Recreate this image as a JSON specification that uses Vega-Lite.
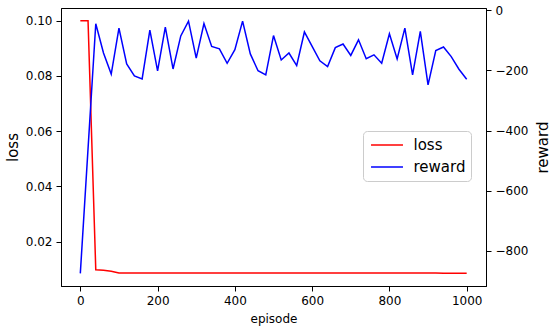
{
  "$schema": "https://vega.github.io/schema/vega-lite/v6.json",
  "width": 425,
  "height": 278,
  "autosize": {"type": "none"},
  "padding": {"left": 61, "top": 8, "right": 64, "bottom": 42},
  "background": "white",
  "config": {
    "font": "DejaVu Sans",
    "view": {"stroke": "#000000", "strokeWidth": 1},
    "axis": {
      "grid": false,
      "domainColor": "#000000",
      "domainWidth": 1,
      "tickColor": "#000000",
      "tickWidth": 1,
      "tickSize": 5,
      "labelPadding": 4,
      "labelFont": "DejaVu Sans",
      "labelFontSize": 12,
      "labelColor": "#000000",
      "titleFont": "DejaVu Sans",
      "titleFontWeight": "normal",
      "titleColor": "#000000"
    }
  },
  "datasets": {
    "lossData": [
      {"episode": 0, "loss": 0.1},
      {"episode": 20, "loss": 0.1},
      {"episode": 40, "loss": 0.0098},
      {"episode": 60, "loss": 0.0096},
      {"episode": 80, "loss": 0.0093},
      {"episode": 100, "loss": 0.0086},
      {"episode": 120, "loss": 0.0086},
      {"episode": 140, "loss": 0.0086},
      {"episode": 160, "loss": 0.0086},
      {"episode": 180, "loss": 0.0086},
      {"episode": 200, "loss": 0.0086},
      {"episode": 220, "loss": 0.0086},
      {"episode": 240, "loss": 0.0086},
      {"episode": 260, "loss": 0.0086},
      {"episode": 280, "loss": 0.0086},
      {"episode": 300, "loss": 0.0086},
      {"episode": 320, "loss": 0.0086},
      {"episode": 340, "loss": 0.0086},
      {"episode": 360, "loss": 0.0086},
      {"episode": 380, "loss": 0.0086},
      {"episode": 400, "loss": 0.0086},
      {"episode": 420, "loss": 0.0086},
      {"episode": 440, "loss": 0.0086},
      {"episode": 460, "loss": 0.0086},
      {"episode": 480, "loss": 0.0086},
      {"episode": 500, "loss": 0.0086},
      {"episode": 520, "loss": 0.0086},
      {"episode": 540, "loss": 0.0086},
      {"episode": 560, "loss": 0.0086},
      {"episode": 580, "loss": 0.0086},
      {"episode": 600, "loss": 0.0086},
      {"episode": 620, "loss": 0.0086},
      {"episode": 640, "loss": 0.0086},
      {"episode": 660, "loss": 0.0086},
      {"episode": 680, "loss": 0.0086},
      {"episode": 700, "loss": 0.0086},
      {"episode": 720, "loss": 0.0086},
      {"episode": 740, "loss": 0.0086},
      {"episode": 760, "loss": 0.0086},
      {"episode": 780, "loss": 0.0086},
      {"episode": 800, "loss": 0.0086},
      {"episode": 820, "loss": 0.0086},
      {"episode": 840, "loss": 0.0086},
      {"episode": 860, "loss": 0.0086},
      {"episode": 880, "loss": 0.0086},
      {"episode": 900, "loss": 0.0086},
      {"episode": 920, "loss": 0.0086},
      {"episode": 940, "loss": 0.0085},
      {"episode": 960, "loss": 0.0085},
      {"episode": 980, "loss": 0.0085},
      {"episode": 1000, "loss": 0.0085}
    ],
    "rewardData": [
      {"episode": 0, "reward": -875},
      {"episode": 40, "reward": -44.5},
      {"episode": 60, "reward": -142},
      {"episode": 80, "reward": -212},
      {"episode": 100, "reward": -59},
      {"episode": 120, "reward": -178},
      {"episode": 140, "reward": -218},
      {"episode": 160, "reward": -228},
      {"episode": 180, "reward": -66},
      {"episode": 200, "reward": -201},
      {"episode": 220, "reward": -56},
      {"episode": 240, "reward": -195},
      {"episode": 260, "reward": -85},
      {"episode": 280, "reward": -36},
      {"episode": 300, "reward": -159},
      {"episode": 320, "reward": -44},
      {"episode": 340, "reward": -120},
      {"episode": 360, "reward": -128},
      {"episode": 380, "reward": -176},
      {"episode": 400, "reward": -131},
      {"episode": 420, "reward": -36},
      {"episode": 440, "reward": -145},
      {"episode": 460, "reward": -201},
      {"episode": 480, "reward": -215},
      {"episode": 500, "reward": -84},
      {"episode": 520, "reward": -165},
      {"episode": 540, "reward": -142},
      {"episode": 560, "reward": -184},
      {"episode": 580, "reward": -72},
      {"episode": 600, "reward": -120},
      {"episode": 620, "reward": -168},
      {"episode": 640, "reward": -187},
      {"episode": 660, "reward": -124},
      {"episode": 680, "reward": -112},
      {"episode": 700, "reward": -150},
      {"episode": 720, "reward": -98},
      {"episode": 740, "reward": -161},
      {"episode": 760, "reward": -148},
      {"episode": 780, "reward": -176},
      {"episode": 800, "reward": -78},
      {"episode": 820, "reward": -162},
      {"episode": 840, "reward": -59},
      {"episode": 860, "reward": -215},
      {"episode": 880, "reward": -70},
      {"episode": 900, "reward": -248},
      {"episode": 920, "reward": -134},
      {"episode": 940, "reward": -122},
      {"episode": 960, "reward": -154},
      {"episode": 980, "reward": -196},
      {"episode": 1000, "reward": -229}
    ]
  },
  "layer": [
    {
      "data": {"name": "lossData"},
      "mark": {"type": "line", "strokeWidth": 1.5, "clip": true},
      "encoding": {
        "x": {
          "field": "episode",
          "type": "quantitative",
          "scale": {"domain": [-50, 1050], "nice": false, "zero": false},
          "axis": {
            "values": [0, 200, 400, 600, 800, 1000],
            "format": "d",
            "title": "episode",
            "titleFontSize": 12,
            "titleX": 212.5,
            "titleY": 36,
            "titleAlign": "center",
            "titleBaseline": "alphabetic"
          }
        },
        "y": {
          "field": "loss",
          "type": "quantitative",
          "scale": {"domain": [0.003925, 0.104575], "nice": false, "zero": false},
          "axis": {
            "orient": "left",
            "values": [0.02, 0.04, 0.06, 0.08, 0.1],
            "format": ".2f",
            "title": "loss",
            "titleFontSize": 15,
            "titleX": -49,
            "titleY": 139,
            "titleAngle": 270,
            "titleAlign": "center",
            "titleBaseline": "middle"
          }
        },
        "color": {
          "datum": "loss",
          "scale": {"domain": ["loss", "reward"], "range": ["#ff0000", "#0000ff"]},
          "legend": {
            "title": null,
            "orient": "none",
            "legendX": 302,
            "legendY": 123,
            "symbolType": "M-2.13,0H2.13",
            "symbolSize": 225,
            "symbolStrokeWidth": 1.5,
            "symbolOffset": 10,
            "labelFontSize": 15,
            "labelFont": "DejaVu Sans",
            "labelColor": "#000000",
            "labelOffset": 18,
            "rowPadding": 5,
            "padding": 5.5,
            "fillColor": "white",
            "strokeColor": "#cccccc",
            "cornerRadius": 4
          }
        }
      }
    },
    {
      "data": {"name": "rewardData"},
      "mark": {"type": "line", "strokeWidth": 1.5, "clip": true},
      "encoding": {
        "x": {"field": "episode", "type": "quantitative"},
        "y": {
          "field": "reward",
          "type": "quantitative",
          "scale": {"domain": [-917, 7.8], "nice": false, "zero": false},
          "axis": {
            "orient": "right",
            "values": [-800, -600, -400, -200, 0],
            "title": "reward",
            "titleFontSize": 15,
            "titleX": 56,
            "titleY": 139,
            "titleAngle": 270,
            "titleAlign": "center",
            "titleBaseline": "middle"
          }
        },
        "color": {"datum": "reward"}
      }
    }
  ],
  "resolve": {"scale": {"y": "independent"}}
}
